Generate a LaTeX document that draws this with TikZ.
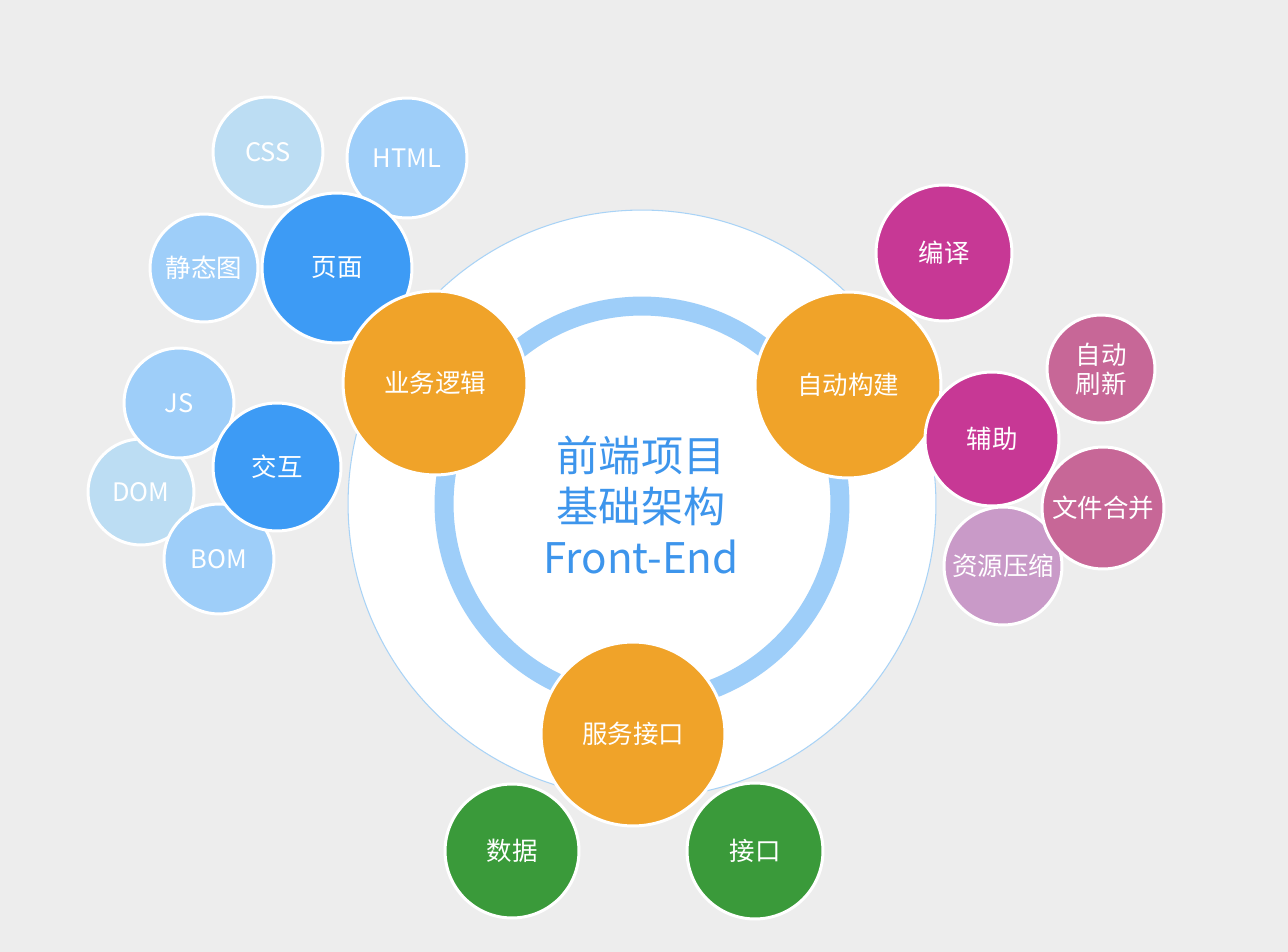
\documentclass[tikz,border=0pt]{standalone}
\usepackage{fontspec}
\usepackage{xcolor}
\usepackage{tikz}
\newfontfamily\cjk{Noto Sans CJK SC}
\definecolor{bg}{HTML}{EDEDED}
\definecolor{hubc}{HTML}{F0A329}
\definecolor{deepblue}{HTML}{3D9BF5}
\definecolor{lightblue}{HTML}{9ECEF9}
\definecolor{paleblue}{HTML}{BCDDF3}
\definecolor{magenta}{HTML}{C73895}
\definecolor{pink}{HTML}{C76797}
\definecolor{lilac}{HTML}{C99AC8}
\definecolor{green}{HTML}{3A9A3A}
\definecolor{ringc}{HTML}{9ECEF9}
\definecolor{rim}{HTML}{A9D3F6}
\definecolor{title}{HTML}{3D95EC}
\tikzset{
  bub/.style={circle, draw=white, line width=1.7pt, inner sep=0pt, minimum size=#1*0.04cm,
    text=white, font=\cjk\fontsize{14.5}{16.5}\selectfont, align=center},
  hub/.style={bub=#1, fill=hubc},
  core/.style={circle, fill=white, draw=rim, line width=0.6pt, minimum size=11.76cm, inner sep=0pt},
  ring/.style={draw=ringc, line width=0.38cm},
  ttl/.style={text=title, font=\cjk\fontsize{24}{29}\selectfont, align=center},
}
\begin{document}
\begin{tikzpicture}[x=0.02cm, y=-0.02cm]
  \fill[bg] (0,0) rectangle (1288,952);
  \useasboundingbox (0,0) rectangle (1288,952);
  % centre
  \node[core] (core) at (642,504) {};
  \draw[ring] (core.center) circle (3.96cm);
  \node[ttl] (title) at (641,505) {前端项目\\基础架构\\Front-End};
  % green leaves
  \node[bub=67, fill=green] (data) at (512,851) {数据};
  \node[bub=68, fill=green] (api) at (755,851) {接口};
  % page group
  \node[bub=55, fill=paleblue] (css) at (268,152) {CSS};
  \node[bub=60, fill=lightblue] (html) at (407,158) {HTML};
  \node[bub=54, fill=lightblue] (img) at (204,268) {静态图};
  \node[bub=75, fill=deepblue] (page) at (337,268) {页面};
  % interaction group
  \node[bub=53, fill=paleblue] (dom) at (141,492) {DOM};
  \node[bub=55, fill=lightblue] (js) at (179,403) {JS};
  \node[bub=55, fill=lightblue] (bom) at (219,559) {BOM};
  \node[bub=64, fill=deepblue] (act) at (277,467) {交互};
  % build group
  \node[bub=68, fill=magenta] (comp) at (944,253) {编译};
  % hubs
  \node[hub=92] (logic) at (435,383) {业务逻辑};
  \node[hub=93] (build) at (848,385) {自动构建};
  \node[hub=92] (serv) at (633,734) {服务接口};
  \node[bub=59, fill=lilac] (zip) at (1003,566) {资源压缩};
  \node[bub=54, fill=pink] (reload) at (1101,369) {自动\\刷新};
  \node[bub=67, fill=magenta] (aid) at (992,439) {辅助};
  \node[bub=61, fill=pink] (merge) at (1103,508) {文件合并};
\end{tikzpicture}
\end{document}
